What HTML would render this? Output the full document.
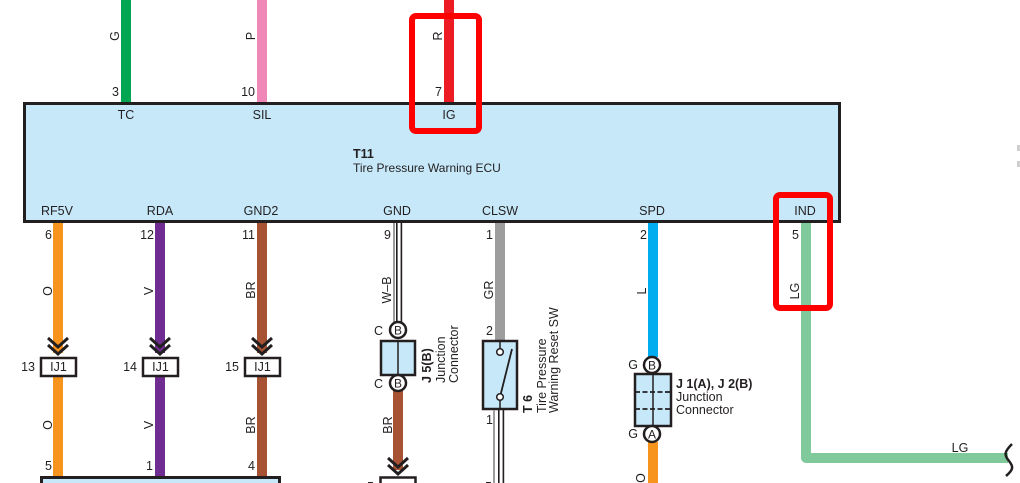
<!DOCTYPE html>
<html><head><meta charset="utf-8"><style>
html,body{margin:0;padding:0;background:#fff;}
svg{display:block;}
text{font-family:"Liberation Sans",Arial,sans-serif;font-size:12.5px;fill:#231f20;}
.b{font-weight:bold;}
</style></head><body>
<svg width="1020" height="483" viewBox="0 0 1020 483" xmlns="http://www.w3.org/2000/svg">
<!-- top wires -->
<rect x="121" y="0" width="10" height="104" fill="#00a651"/>
<rect x="257" y="0" width="10" height="104" fill="#f088b7"/>
<rect x="444" y="0" width="10" height="104" fill="#ed1c24"/>
<text transform="translate(119,36) rotate(-90)" text-anchor="middle">G</text>
<text transform="translate(255,36) rotate(-90)" text-anchor="middle">P</text>
<text transform="translate(442,36) rotate(-90)" text-anchor="middle">R</text>
<text x="119" y="96" text-anchor="end">3</text>
<text x="255" y="96" text-anchor="end">10</text>
<text x="442" y="96" text-anchor="end">7</text>

<!-- bottom wires from ECU -->
<rect x="53" y="222" width="10" height="131" fill="#f7941d"/>
<rect x="155" y="222" width="10" height="131" fill="#6f2c91"/>
<rect x="257" y="222" width="10" height="131" fill="#a65233"/>
<!-- GND W-B -->
<rect x="393" y="222" width="2" height="100" fill="#9d9d9d"/>
<rect x="396" y="222" width="1.6" height="100" fill="#231f20"/>
<rect x="400.6" y="222" width="1.6" height="100" fill="#231f20"/>
<!-- CLSW GR -->
<rect x="495" y="222" width="10" height="119" fill="#9d9d9d"/>
<!-- SPD L -->
<rect x="648" y="222" width="10" height="135" fill="#00aeef"/>
<!-- IND LG -->
<path d="M806,222 V458 H1008" fill="none" stroke="#80c99b" stroke-width="10" stroke-linejoin="round"/>

<!-- ECU -->
<rect x="24.5" y="103.5" width="815" height="118" fill="#c6e8f9" stroke="#231f20" stroke-width="3"/>
<text x="126" y="119" text-anchor="middle">TC</text>
<text x="262" y="119" text-anchor="middle">SIL</text>
<text x="449" y="119" text-anchor="middle">IG</text>
<text x="353" y="158" class="b">T11</text>
<text x="353" y="172" style="font-size:12px">Tire Pressure Warning ECU</text>
<text x="57" y="215" text-anchor="middle">RF5V</text>
<text x="160" y="215" text-anchor="middle">RDA</text>
<text x="261" y="215" text-anchor="middle">GND2</text>
<text x="397" y="215" text-anchor="middle">GND</text>
<text x="500" y="215" text-anchor="middle">CLSW</text>
<text x="652" y="215" text-anchor="middle">SPD</text>
<text x="805" y="215" text-anchor="middle">IND</text>

<!-- pin numbers under ECU -->
<text x="52" y="239" text-anchor="end">6</text>
<text x="154" y="239" text-anchor="end">12</text>
<text x="255" y="239" text-anchor="end">11</text>
<text x="391" y="239" text-anchor="end">9</text>
<text x="493" y="239" text-anchor="end">1</text>
<text x="647" y="239" text-anchor="end">2</text>
<text x="799" y="239" text-anchor="end">5</text>

<!-- wire color labels -->
<text transform="translate(52,291) rotate(-90)" text-anchor="middle">O</text>
<text transform="translate(153,291) rotate(-90)" text-anchor="middle">V</text>
<text transform="translate(255,290) rotate(-90)" text-anchor="middle">BR</text>
<text transform="translate(391,290) rotate(-90)" text-anchor="middle">W–B</text>
<text transform="translate(493,290) rotate(-90)" text-anchor="middle">GR</text>
<text transform="translate(646,291) rotate(-90)" text-anchor="middle">L</text>
<text transform="translate(799,291) rotate(-90)" text-anchor="middle">LG</text>

<!-- chevrons + IJ1 -->
<g fill="none" stroke="#231f20" stroke-width="3">
<polyline points="48,338 58,347 68,338"/><polyline points="48,345 58,354 68,345"/>
<polyline points="150,338 160,347 170,338"/><polyline points="150,345 160,354 170,345"/>
<polyline points="252,338 262,347 272,338"/><polyline points="252,345 262,354 272,345"/>
</g>
<rect x="53" y="376" width="10" height="101" fill="#f7941d"/>
<rect x="155" y="376" width="10" height="101" fill="#6f2c91"/>
<rect x="257" y="376" width="10" height="101" fill="#a65233"/>
<g fill="#fff" stroke="#231f20" stroke-width="2.5">
<rect x="41" y="358" width="35" height="18"/>
<rect x="143" y="358" width="35" height="18"/>
<rect x="245" y="358" width="35" height="18"/>
</g>
<text x="58.5" y="371" text-anchor="middle">IJ1</text>
<text x="160.5" y="371" text-anchor="middle">IJ1</text>
<text x="262.5" y="371" text-anchor="middle">IJ1</text>
<text x="35" y="371" text-anchor="end">13</text>
<text x="137" y="371" text-anchor="end">14</text>
<text x="239" y="371" text-anchor="end">15</text>
<text transform="translate(52,425) rotate(-90)" text-anchor="middle">O</text>
<text transform="translate(153,425) rotate(-90)" text-anchor="middle">V</text>
<text transform="translate(255,425) rotate(-90)" text-anchor="middle">BR</text>
<text x="52" y="470" text-anchor="end">5</text>
<text x="153" y="470" text-anchor="end">1</text>
<text x="255" y="470" text-anchor="end">4</text>
<!-- lower box -->
<rect x="41.5" y="477.5" width="238" height="20" fill="#c6e8f9" stroke="#231f20" stroke-width="3"/>
<text x="58" y="493" text-anchor="middle">5V</text>
<text x="160" y="493" text-anchor="middle">RDA</text>
<text x="262" y="493" text-anchor="middle">GND</text>

<!-- J5(B) -->
<rect x="393" y="390" width="10" height="80" fill="#a65233"/>
<rect x="381" y="341" width="34" height="34" fill="#c6e8f9" stroke="#231f20" stroke-width="2.5"/>
<line x1="398" y1="341" x2="398" y2="375" stroke="#231f20" stroke-width="1.5"/>
<circle cx="398" cy="330" r="8" fill="#fff" stroke="#231f20" stroke-width="2.5"/>
<circle cx="398" cy="383" r="8" fill="#fff" stroke="#231f20" stroke-width="2.5"/>
<text x="398" y="334.5" text-anchor="middle" style="font-size:12px">B</text>
<text x="398" y="387.5" text-anchor="middle" style="font-size:12px">B</text>
<text x="383" y="335" text-anchor="end">C</text>
<text x="383" y="388" text-anchor="end">C</text>
<text transform="translate(431,383) rotate(-90)" class="b">J 5(B)</text>
<text transform="translate(445,383) rotate(-90)">Junction</text>
<text transform="translate(458,383) rotate(-90)">Connector</text>
<text transform="translate(392,425) rotate(-90)" text-anchor="middle">BR</text>
<g fill="none" stroke="#231f20" stroke-width="3">
<polyline points="388,458 398,467 408,458"/><polyline points="388,465 398,474 408,465"/>
</g>
<rect x="380.5" y="477.5" width="35" height="20" fill="#fff" stroke="#231f20" stroke-width="2.5"/>
<text x="398" y="493" text-anchor="middle">IJ1</text>
<text x="374" y="491" text-anchor="end">5</text>

<!-- T6 switch -->
<rect x="483" y="341" width="34" height="68" fill="#c6e8f9" stroke="#231f20" stroke-width="2.5"/>
<line x1="500" y1="341" x2="500" y2="349" stroke="#231f20" stroke-width="1.5"/>
<line x1="500" y1="400" x2="500" y2="409" stroke="#231f20" stroke-width="1.5"/>
<line x1="500" y1="397" x2="512" y2="349" stroke="#231f20" stroke-width="1.8"/>
<circle cx="500" cy="352" r="3.3" fill="#fff" stroke="#231f20" stroke-width="1.5"/>
<circle cx="500" cy="397" r="3.3" fill="#fff" stroke="#231f20" stroke-width="1.5"/>
<text x="493" y="335" text-anchor="end">2</text>
<rect x="493" y="410" width="2" height="73" fill="#9d9d9d"/>
<rect x="498" y="410" width="1.6" height="73" fill="#231f20"/>
<rect x="502.6" y="410" width="1.6" height="73" fill="#231f20"/>
<text x="493" y="424" text-anchor="end">1</text>
<text x="492" y="491" text-anchor="end">5</text>
<text transform="translate(532,413) rotate(-90)" class="b">T 6</text>
<text transform="translate(546,413) rotate(-90)">Tire Pressure</text>
<text transform="translate(558,413) rotate(-90)">Warning Reset SW</text>

<!-- J1(A), J2(B) -->
<rect x="648" y="442" width="10" height="41" fill="#f7941d"/>
<rect x="635" y="374" width="36" height="52" fill="#c6e8f9" stroke="#231f20" stroke-width="2.5"/>
<line x1="653" y1="374" x2="653" y2="426" stroke="#231f20" stroke-width="1.5"/>
<line x1="635" y1="392" x2="671" y2="392" stroke="#231f20" stroke-width="1.8" stroke-dasharray="5,2.5"/>
<line x1="635" y1="409" x2="671" y2="409" stroke="#231f20" stroke-width="1.8" stroke-dasharray="5,2.5"/>
<circle cx="652" cy="365" r="8" fill="#fff" stroke="#231f20" stroke-width="2.5"/>
<circle cx="652" cy="434" r="8" fill="#fff" stroke="#231f20" stroke-width="2.5"/>
<text x="652" y="369.5" text-anchor="middle" style="font-size:12px">B</text>
<text x="652" y="438.5" text-anchor="middle" style="font-size:12px">A</text>
<text x="638" y="369" text-anchor="end">G</text>
<text x="638" y="438" text-anchor="end">G</text>
<text x="676" y="388" class="b">J 1(A), J 2(B)</text>
<text x="676" y="401">Junction</text>
<text x="676" y="414">Connector</text>
<text transform="translate(645,478) rotate(-90)" text-anchor="middle">O</text>

<!-- LG end -->
<text x="960" y="452" text-anchor="middle">LG</text>
<path d="M1012,444 C1004,452 1004,455 1009,461 C1014,467 1013,470 1006,476" fill="none" stroke="#231f20" stroke-width="2.5"/>
<rect x="1017" y="145" width="3" height="6" fill="#cfcfcf"/>
<rect x="1017" y="161" width="3" height="6" fill="#cfcfcf"/>

<!-- red highlights -->
<rect x="412" y="16" width="67" height="115" rx="4" fill="none" stroke="#ff0000" stroke-width="6"/>
<rect x="776" y="195" width="54" height="113" rx="4" fill="none" stroke="#ff0000" stroke-width="6"/>
</svg>
</body></html>
